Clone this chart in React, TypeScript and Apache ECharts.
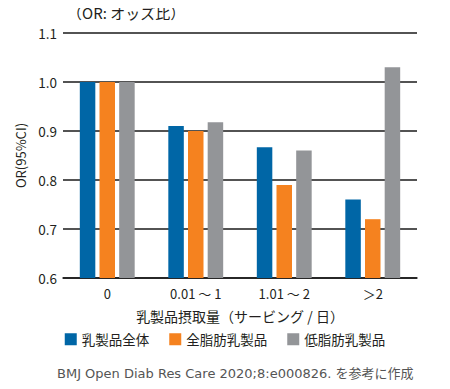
import React, { useEffect, useRef } from "react";
import * as echarts from "echarts";

const categories = ["0", "0.01 ～ 1", "1.01 ～ 2", "＞2"];
const seriesNames = ["乳製品全体", "全脂肪乳製品", "低脂肪乳製品"];
const totalDairy = [1.0, 0.91, 0.867, 0.76];
const fullFat = [1.0, 0.9, 0.79, 0.72];
const lowFat = [1.0, 0.918, 0.86, 1.03];
const yTicks = [0.6, 0.7, 0.8, 0.9, 1.0, 1.1];
const colors = ["#0066a6", "#f5821f", "#939598"];

const FONT = "'Noto Sans CJK JP', 'Noto Sans', sans-serif";
const TXT = "#231f20";

export default function App() {
  const ref = useRef<HTMLDivElement>(null);
  useEffect(() => {
    if (!ref.current) return;
    const chart = echarts.init(ref.current, undefined, { renderer: "svg" });
    const values = [totalDairy, fullFat, lowFat];
    chart.setOption({
      animation: false,
      textStyle: { fontFamily: FONT },
      title: {
        text: "（OR: オッズ比）",
        left: 62,
        top: 0,
        textStyle: { fontFamily: FONT, fontSize: 15, fontWeight: "normal", color: TXT },
      },
      grid: { left: 63, right: 33, top: 33, bottom: 111 },
      legend: {
        bottom: 38,
        left: "center",
        itemWidth: 12,
        itemHeight: 12,
        itemGap: 20,
        icon: "rect",
        textStyle: { fontFamily: FONT, fontSize: 13.5, color: TXT },
        data: seriesNames,
      },
      xAxis: {
        type: "category",
        data: categories,
        name: "乳製品摂取量（サービング / 日）",
        nameLocation: "middle",
        nameGap: 31,
        nameTextStyle: { fontFamily: FONT, fontSize: 14, color: TXT },
        axisLine: { lineStyle: { color: "#1a1a1a", width: 1.5 } },
        axisTick: { show: false },
        axisLabel: { fontFamily: FONT, fontSize: 13, color: TXT, margin: 9 },
      },
      yAxis: {
        type: "value",
        min: 0.6,
        max: 1.1,
        interval: 0.1,
        name: "OR(95%CI)",
        nameLocation: "middle",
        nameGap: 34,
        nameRotate: 90,
        nameTextStyle: { fontFamily: FONT, fontSize: 13, color: TXT },
        axisLine: { show: false },
        axisTick: { show: false },
        splitLine: { lineStyle: { color: "#1a1a1a", width: 1.5 } },
        axisLabel: {
          fontFamily: FONT,
          fontSize: 13.5,
          color: TXT,
          margin: 6,
          formatter: (v: number) => {
            const t = yTicks.find((x) => Math.abs(x - v) < 1e-6);
            return (t ?? v).toFixed(1);
          },
        },
      },
      series: seriesNames.map((name, i) => ({
        name,
        type: "bar",
        data: values[i],
        barWidth: 15.5,
        barGap: "27%",
        itemStyle: { color: colors[i] },
      })),
      graphic: [
        {
          type: "text",
          left: 57,
          top: 367,
          style: {
            text: "BMJ Open Diab Res Care 2020;8:e000826. を参考に作成",
            fontFamily: "'DejaVu Sans', 'Noto Sans CJK JP', sans-serif",
            fontSize: 13,
            fill: "#555555",
          },
        },
      ],
    });
    return () => chart.dispose();
  }, []);
  return <div ref={ref} style={{ width: 450, height: 389, margin: -8 }} />;
}
